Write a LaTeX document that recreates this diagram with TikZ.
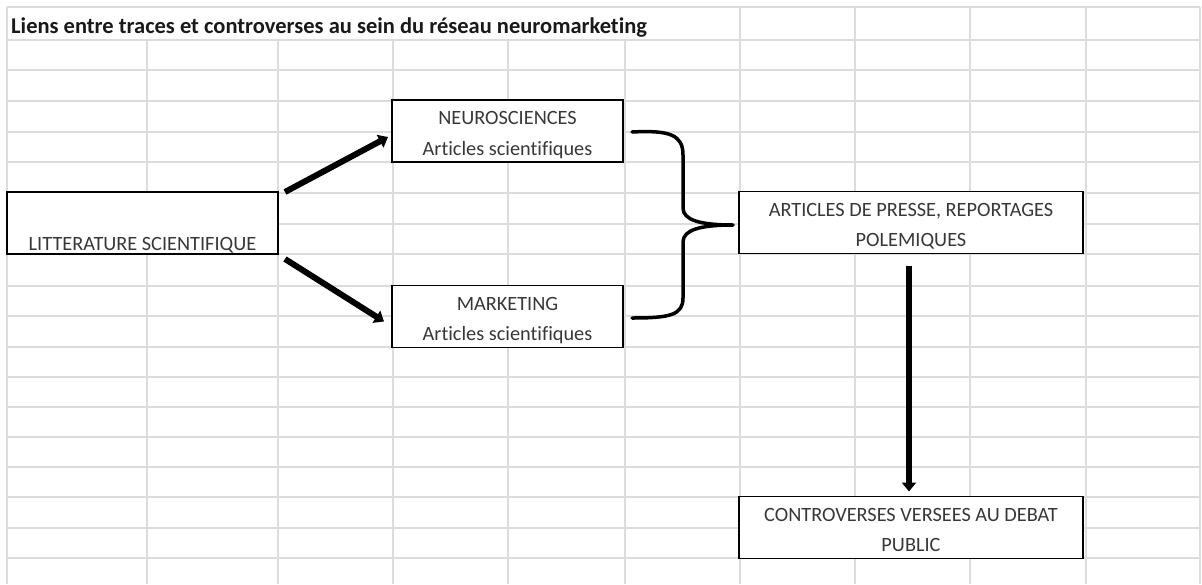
\documentclass[tikz,border=0pt]{standalone}
\usepackage{fontspec}
\setmainfont{Carlito}[Ligatures={NoCommon}]
\usetikzlibrary{arrows.meta,calc}
\definecolor{gridc}{HTML}{DADCDD}
\definecolor{txt}{HTML}{383838}
\newcommand\twoline[2]{\rule{0pt}{24.5pt}#1\\#2\rule[-7pt]{0pt}{0pt}}
\begin{document}
\begin{tikzpicture}[x=1pt,y=-1pt,
  gridline/.style={draw=gridc,line width=1.5pt},
  box/.style={draw=black,fill=white,line width=1.4pt,inner sep=0pt,outer sep=0pt,
    align=center,font=\fontsize{20.3}{30.5}\selectfont,text=txt},
  arr/.style={line width=6pt,-{Triangle[length=9pt,width=14pt]}},
  bracestyle/.style={line width=3.5pt,line cap=round,line join=round}]
\useasboundingbox (0,0) rectangle (1202,584);
\fill[white] (0,0) rectangle (1202,584);
% grid
\foreach \y in {7,40,70,101,132,162,193,224,254,286,316,347,377,407,437,467,497,528,558}
  \draw[gridline] (7,\y) -- (1200,\y);
\foreach \x in {147,278,393,508,625}
  \draw[gridline] (\x,40) -- (\x,584);
\foreach \x in {7,740,855,970,1086,1200}
  \draw[gridline] (\x,7) -- (\x,584);
% title
\node[anchor=base west,inner sep=0pt,font=\bfseries\fontsize{22.5}{26}\selectfont,text=black!90]
  (title) at (11,33) {Liens entre traces et controverses au sein du réseau neuromarketing};
% boxes
\node[box,minimum width=271pt,minimum height=62pt] (lit) at (142.5,223)
  {\rule{0pt}{58pt}LITTERATURE SCIENTIFIQUE\rule[-4pt]{0pt}{0pt}};
\node[box,minimum width=231pt,minimum height=62pt] (neuro) at (507.5,131)
  {\twoline{NEUROSCIENCES}{Articles scientifiques}};
\node[box,minimum width=231pt,minimum height=62pt] (market) at (507.5,316.5)
  {\twoline{MARKETING}{Articles scientifiques}};
\node[box,minimum width=344pt,minimum height=62pt] (press) at (911,222.5)
  {\twoline{ARTICLES DE PRESSE, REPORTAGES}{POLEMIQUES}};
\node[box,minimum width=344pt,minimum height=62pt] (contro) at (911,527.5)
  {\twoline{CONTROVERSES VERSEES AU DEBAT}{PUBLIC}};
% arrows
\draw[arr] ([shift={(7,0)}]lit.north east) -- ([shift={(-4,6)}]neuro.west);
\draw[arr] ([shift={(7,5)}]lit.south east) -- ([shift={(-8,5)}]market.west);
\draw[arr] ([shift={(-2,12)}]press.south) -- ([shift={(-2,-5)}]contro.north);
% brace
\coordinate (bt) at ([shift={(9,1)}]neuro.east);
\coordinate (bb) at ([shift={(9,1.5)}]market.east);
\coordinate (tip) at ([shift={(-6,2.5)}]press.west);
\draw[bracestyle] (bt) .. controls ([shift={(38,-2)}]bt) and ([shift={(51,3)}]bt) .. ([shift={(51,23)}]bt)
  -- ([shift={(-50,-17)}]tip) .. controls ([shift={(-50,-5)}]tip) and ([shift={(-33,0)}]tip) .. (tip)
  .. controls ([shift={(-33,0)}]tip) and ([shift={(-50,5)}]tip) .. ([shift={(-50,17)}]tip)
  -- ([shift={(51,-20)}]bb) .. controls ([shift={(51,-3)}]bb) and ([shift={(38,0)}]bb) .. (bb);
\end{tikzpicture}
\end{document}
